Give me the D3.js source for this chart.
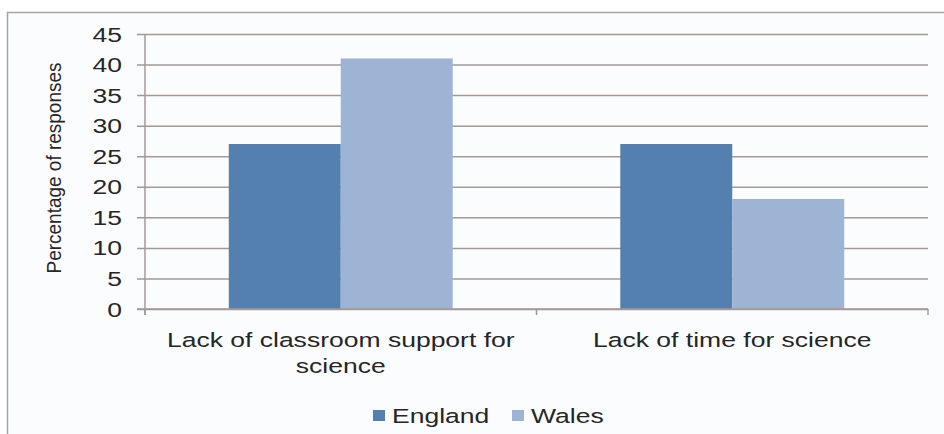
<!DOCTYPE html>
<html>
<head>
<meta charset="utf-8">
<script src="https://cdn.jsdelivr.net/npm/d3@7"></script>
<style>
  body { margin: 0; background: #fff; }
  svg text { font-family: "Liberation Sans", Arial, sans-serif; fill: #262626; }
</style>
</head>
<body>
<div id="chart"></div>
<script>
const categories = [['Lack of classroom support for', 'science'], ['Lack of time for science']];
const seriesNames = ['England', 'Wales'];
const england = [27, 27];
const wales = [41, 18];
const yTicks = [0, 5, 10, 15, 20, 25, 30, 35, 40, 45];

const colors = { England: '#5480b0', Wales: '#9db4d4' };
const grid = '#a39a98';
// the source picture is stretched sideways, so text is widened to match
const SX = 1.36;

const width = 944;
const height = 434;
const margin = { top: 34, right: 16, bottom: 125, left: 145 };
const innerWidth = width - margin.left - margin.right;
const innerHeight = height - margin.top - margin.bottom;

const rows = categories.map((c, i) => ({ key: i, label: c, England: england[i], Wales: wales[i] }));

const xScale = d3.scaleBand()
  .domain(rows.map(d => d.key))
  .range([0, innerWidth])
  .paddingInner(0.428)
  .paddingOuter(0.214);

const xSub = d3.scaleBand()
  .domain(seriesNames)
  .range([0, xScale.bandwidth()]);

const yScale = d3.scaleLinear()
  .domain([0, 45])
  .range([innerHeight, 0]);

const svg = d3.select('#chart')
  .append('svg')
    .attr('width', width)
    .attr('height', height);

// outer frame
svg.append('rect')
  .attr('x', 7.5)
  .attr('y', 12.5)
  .attr('width', width)
  .attr('height', height)
  .attr('fill', '#fbfcfd')
  .attr('stroke', '#a5a5a5')
  .attr('stroke-width', 1.5);

const inner = svg.append('g')
  .attr('transform', `translate(${margin.left}, ${margin.top})`);

// y axis with gridlines
const yAxis = d3.axisLeft(yScale)
  .tickValues(yTicks)
  .tickSize(-innerWidth)
  .tickPadding(0);

inner.append('g')
  .attr('class', 'axis axis-y')
  .call(yAxis)
  .call(g => g.select('.domain').remove())
  .call(g => g.selectAll('.tick line')
    .attr('x1', -8)
    .attr('stroke', grid)
    .attr('stroke-width', 1.5))
  .call(g => g.selectAll('.tick text')
    .attr('font-size', 19.5)
    .attr('x', -23 / SX)
    .attr('dy', '0.36em')
    .attr('transform', `scale(${SX}, 1)`)
    .style('fill', '#262626'));

// bars
const groups = inner.selectAll('.group')
    .data(rows)
  .enter().append('g')
    .attr('class', 'group')
    .attr('transform', d => `translate(${xScale(d.key)}, 0)`);

groups.selectAll('rect')
    .data(d => seriesNames.map(s => ({ s, v: d[s] })))
  .enter().append('rect')
    .attr('x', d => xSub(d.s))
    .attr('y', d => yScale(d.v))
    .attr('width', xSub.bandwidth())
    .attr('height', d => innerHeight - yScale(d.v))
    .attr('fill', d => colors[d.s]);

// y axis line
inner.append('line')
  .attr('x1', 0).attr('x2', 0)
  .attr('y1', 0).attr('y2', innerHeight + 6)
  .attr('stroke', grid)
  .attr('stroke-width', 1.5);

// x axis line with boundary ticks
inner.append('line')
  .attr('x1', -8).attr('x2', innerWidth)
  .attr('y1', innerHeight).attr('y2', innerHeight)
  .attr('stroke', grid)
  .attr('stroke-width', 1.5);

[0, 1, 2].forEach(i => {
  const x = xScale.step() * i;
  inner.append('line')
    .attr('x1', x).attr('x2', x)
    .attr('y1', innerHeight).attr('y2', innerHeight + 6)
    .attr('stroke', grid)
    .attr('stroke-width', 1.5);
});

// category labels
inner.selectAll('.cat-label')
    .data(rows)
  .enter().append('text')
    .attr('class', 'cat-label')
    .attr('text-anchor', 'middle')
    .attr('font-size', 19.5)
    .attr('transform', d => `translate(${xScale(d.key) + xScale.bandwidth() / 2}, ${innerHeight + 38}) scale(${SX}, 1)`)
    .each(function(d) {
      const t = d3.select(this);
      d.label.forEach((line, i) => {
        t.append('tspan')
          .attr('x', 0)
          .attr('dy', i === 0 ? 0 : 26)
          .text(line);
      });
    });

// y axis title
svg.append('text')
  .attr('transform', `translate(61, 168) rotate(-90)`)
  .attr('text-anchor', 'middle')
  .attr('font-size', 20.5)
  .attr('textLength', 211)
  .attr('lengthAdjust', 'spacingAndGlyphs')
  .text('Percentage of responses');

// legend
const legend = svg.append('g')
  .attr('transform', 'translate(373, 423)');

const legendX = [0, 139];
seriesNames.forEach((s, i) => {
  legend.append('rect')
    .attr('x', legendX[i])
    .attr('y', -13)
    .attr('width', 12)
    .attr('height', 11)
    .attr('fill', colors[s]);
  legend.append('text')
    .attr('transform', `translate(${legendX[i] + 19}, 0) scale(${SX}, 1)`)
    .attr('font-size', 19.5)
    .text(s);
});
</script>
</body>
</html>
